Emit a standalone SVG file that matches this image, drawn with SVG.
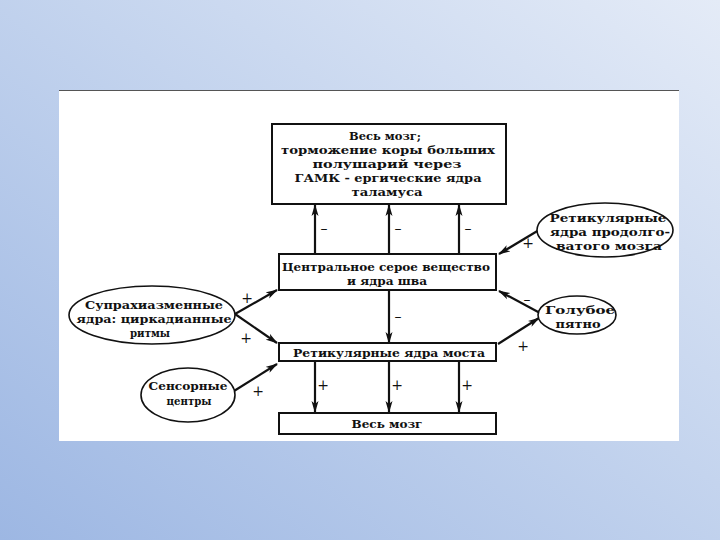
<svg xmlns="http://www.w3.org/2000/svg" width="720" height="540" viewBox="0 0 720 540">
<defs>
<linearGradient id="bg" x1="0" y1="1" x2="1" y2="0">
<stop offset="0" stop-color="#9db7e3"/>
<stop offset="0.55" stop-color="#c4d4ee"/>
<stop offset="1" stop-color="#e4ebf7"/>
</linearGradient>
<marker id="ah" markerWidth="12" markerHeight="8" refX="11" refY="4" orient="auto" markerUnits="userSpaceOnUse">
<path d="M0,0.5 L12,4 L0,7.5 L3,4 Z" fill="#111"/>
</marker>
<style>
.box{fill:#fff;stroke:#111;stroke-width:2}
.ell{fill:#fff;stroke:#111;stroke-width:1.6}
.t{font-family:"DejaVu Serif","Liberation Serif",serif;font-weight:bold;font-size:11.5px;fill:#111;text-anchor:middle}
.s{font-family:"DejaVu Serif","Liberation Serif",serif;font-size:14px;fill:#111;text-anchor:middle}
.c{stroke:#111;stroke-width:2.2;fill:none;marker-end:url(#ah)}
</style>
</defs>
<rect width="720" height="540" fill="url(#bg)"/>
<rect x="59" y="90" width="620" height="351" fill="#fff"/>
<line x1="59" y1="90.5" x2="679" y2="90.5" stroke="#555" stroke-width="1"/>

<g id="connectors">
<line class="c" x1="315" y1="255" x2="315" y2="205"/>
<line class="c" x1="389" y1="255" x2="389" y2="205"/>
<line class="c" x1="459" y1="255" x2="459" y2="205"/>
<line class="c" x1="389" y1="291" x2="389" y2="343"/>
<line class="c" x1="315" y1="362" x2="315" y2="412"/>
<line class="c" x1="389" y1="362" x2="389" y2="412"/>
<line class="c" x1="459" y1="362" x2="459" y2="412"/>
<line class="c" x1="235" y1="314" x2="277" y2="290"/>
<line class="c" x1="235" y1="314" x2="277" y2="343"/>
<line class="c" x1="234" y1="391" x2="277" y2="364"/>
<line class="c" x1="539" y1="230" x2="499" y2="254"/>
<line class="c" x1="540" y1="313" x2="499" y2="291"/>
<line class="c" x1="498" y1="344" x2="539" y2="318"/>
<text class="s" x="324" y="233">–</text>
<text class="s" x="398" y="233">–</text>
<text class="s" x="468" y="233">–</text>
<text class="s" x="398" y="321">–</text>
<text class="s" x="323" y="390">+</text>
<text class="s" x="397" y="390">+</text>
<text class="s" x="467" y="390">+</text>
<text class="s" x="247" y="303">+</text>
<text class="s" x="246" y="343">+</text>
<text class="s" x="258" y="396">+</text>
<text class="s" x="528" y="248">+</text>
<text class="s" x="527" y="304">–</text>
<text class="s" x="523" y="351">+</text>
</g>

<g id="top">
<rect class="box" x="272" y="124" width="234" height="80"/>
<text class="t" x="385" y="140" textLength="72" lengthAdjust="spacingAndGlyphs">Весь мозг;</text>
<text class="t" x="388" y="154" textLength="214" lengthAdjust="spacingAndGlyphs">торможение коры больших</text>
<text class="t" x="387" y="168" textLength="149" lengthAdjust="spacingAndGlyphs">полушарий через</text>
<text class="t" x="388" y="182" textLength="187" lengthAdjust="spacingAndGlyphs">ГАМК - ергические ядра</text>
<text class="t" x="387" y="196" textLength="71" lengthAdjust="spacingAndGlyphs">таламуса</text>
</g>

<g id="central">
<rect class="box" x="279" y="254" width="217" height="36"/>
<text class="t" x="386" y="271" textLength="208" lengthAdjust="spacingAndGlyphs">Центральное серое вещество</text>
<text class="t" x="387" y="285" textLength="80" lengthAdjust="spacingAndGlyphs">и ядра шва</text>
</g>

<g id="pons">
<rect class="box" x="279" y="343" width="217" height="18"/>
<text class="t" x="389" y="357" textLength="192" lengthAdjust="spacingAndGlyphs">Ретикулярные ядра моста</text>
</g>

<g id="brain">
<rect class="box" x="279" y="413" width="217" height="21"/>
<text class="t" x="387" y="428" textLength="71" lengthAdjust="spacingAndGlyphs">Весь мозг</text>
</g>

<g id="scn">
<ellipse class="ell" cx="152" cy="315" rx="83" ry="29"/>
<text class="t" x="154" y="309" textLength="138" lengthAdjust="spacingAndGlyphs">Супрахиазменные</text>
<text class="t" x="154" y="323" textLength="155" lengthAdjust="spacingAndGlyphs">ядра: циркадианные</text>
<text class="t" x="150" y="337" textLength="40" lengthAdjust="spacingAndGlyphs">ритмы</text>
</g>

<g id="sensory">
<ellipse class="ell" cx="188" cy="395" rx="47" ry="27"/>
<text class="t" x="188" y="390" textLength="79" lengthAdjust="spacingAndGlyphs">Сенсорные</text>
<text class="t" x="189" y="405" textLength="45" lengthAdjust="spacingAndGlyphs">центры</text>
</g>

<g id="medulla">
<ellipse class="ell" cx="605" cy="230" rx="68" ry="27"/>
<text class="t" x="608" y="222" textLength="117" lengthAdjust="spacingAndGlyphs">Ретикулярные</text>
<text class="t" x="610" y="236" textLength="120" lengthAdjust="spacingAndGlyphs">ядра продолго-</text>
<text class="t" x="609" y="250" textLength="106" lengthAdjust="spacingAndGlyphs">ватого мозга</text>
</g>

<g id="locus">
<ellipse class="ell" cx="577" cy="315" rx="39" ry="19"/>
<text class="t" x="580" y="314" textLength="70" lengthAdjust="spacingAndGlyphs">Голубое</text>
<text class="t" x="578" y="328" textLength="45" lengthAdjust="spacingAndGlyphs">пятно</text>
</g>
</svg>
